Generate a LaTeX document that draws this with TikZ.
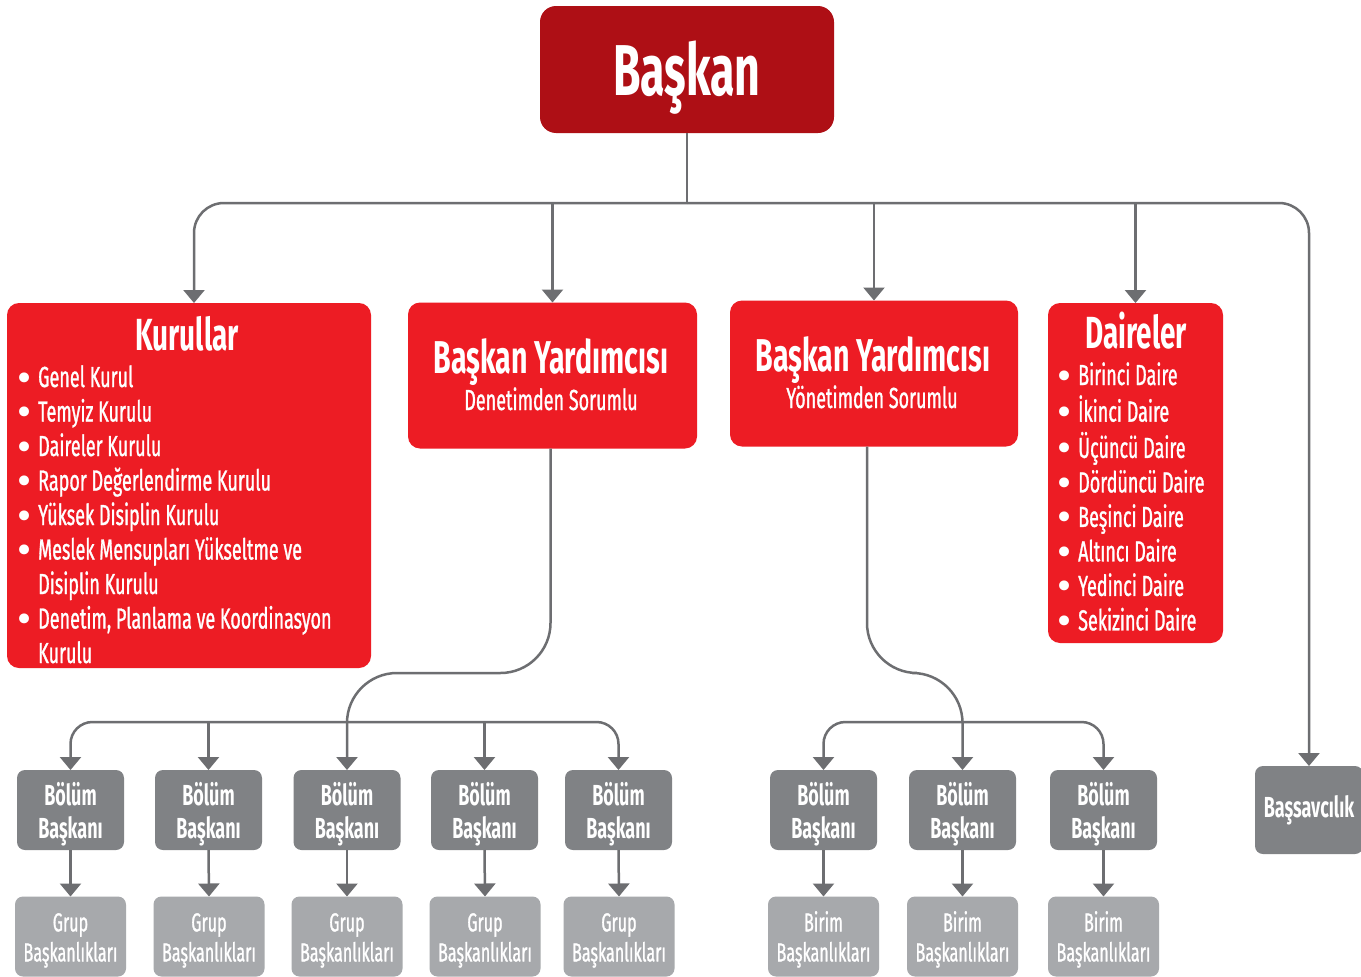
\documentclass[tikz,border=0pt]{standalone}
\usepackage{fontspec}
\setmainfont{Fira Sans}[FakeStretch=0.62]
\newfontfamily\medfont{Fira Sans}[FakeStretch=0.62, FakeBold=1]
\newfontfamily\bulfont{DejaVu Sans}
\usetikzlibrary{arrows.meta}
\definecolor{cDark}{HTML}{AE0F15}
\definecolor{cRed}{HTML}{ED1C24}
\definecolor{cGray}{HTML}{808285}
\definecolor{cLGray}{HTML}{A7A9AC}
\definecolor{cLine}{HTML}{6D6E71}
\newcommand{\fs}[1]{\fontsize{#1}{#1}\selectfont}
\newcommand{\bt}{\makebox[24pt][l]{\raisebox{-3pt}{\bulfont\fontsize{34}{34}\selectfont •}}}
\tikzset{
  box/.style={inner sep=0pt, outer sep=0pt},
  darkbox/.style={box, fill=cDark, rounded corners=16pt},
  redbox/.style={box, fill=cRed, rounded corners=12pt},
  graybox/.style={box, fill=cGray, rounded corners=8pt, minimum width=107pt, minimum height=80pt,
     text=white, align=center, font=\bfseries\fontsize{29}{33}\selectfont},
  lgraybox/.style={box, fill=cLGray, rounded corners=8pt, minimum width=111pt, minimum height=80pt,
     text=white, align=center, font=\medfont\fontsize{26}{30}\selectfont},
  wtext/.style={text=white, inner sep=0pt, anchor=base},
  listtext/.style={text=white, inner sep=0pt, anchor=base west,
     font=\medfont\fontsize{29}{34.5}\selectfont},
  line/.style={draw=cLine, line width=2.5pt},
  arr/.style={line, -{Triangle[width=21pt,length=13pt]}},
}
\begin{document}
\begin{tikzpicture}[x=1pt,y=-1pt]
\useasboundingbox[fill=white] (0,0) rectangle (1361,977);

% top
\node[darkbox, minimum width=294pt, minimum height=127pt] (bask) at (687,69.5) {};
\node[wtext, font=\bfseries\fs{72}] (baskT) at (687,95) {Başkan};

% second level
\node[redbox, minimum width=364pt, minimum height=365pt] (kur) at (189,485.5) {};
\node[wtext, font=\bfseries\fs{45}] (kurT) at (187,350) {Kurullar};
\node[listtext] (kurL) at (14,387)
 {\begin{tabular}[t]{@{}l@{}}
  \bt Genel Kurul\\
  \bt Temyiz Kurulu\\
  \bt Daireler Kurulu\\
  \bt Rapor Değerlendirme Kurulu\\
  \bt Yüksek Disiplin Kurulu\\
  \bt Meslek Mensupları Yükseltme ve\\
  \hspace*{24pt}Disiplin Kurulu\\
  \bt Denetim, Planlama ve Koordinasyon\\
  \hspace*{24pt}Kurulu
  \end{tabular}};

\node[redbox, minimum width=289pt, minimum height=146pt] (by1) at (552.5,375.5) {};
\node[wtext, font=\bfseries\fs{46}] (by1T) at (551,373) {Başkan Yardımcısı};
\node[wtext, font=\medfont\fs{29}] (by1S) at (551,410) {Denetimden Sorumlu};

\node[redbox, minimum width=288pt, minimum height=146pt] (by2) at (874,373.5) {};
\node[wtext, font=\bfseries\fs{46}] (by2T) at (873,371) {Başkan Yardımcısı};
\node[wtext, font=\medfont\fs{29}] (by2S) at (872,408) {Yönetimden Sorumlu};

\node[redbox, minimum width=175pt, minimum height=340pt] (dai) at (1135.5,473) {};
\node[wtext, font=\bfseries\fs{45}] (daiT) at (1136,348) {Daireler};
\node[listtext] (daiL) at (1054,385)
 {\begin{tabular}[t]{@{}l@{}}
  \bt Birinci Daire\\
  \bt İkinci Daire\\
  \bt Üçüncü Daire\\
  \bt Dördüncü Daire\\
  \bt Beşinci Daire\\
  \bt Altıncı Daire\\
  \bt Yedinci Daire\\
  \bt Sekizinci Daire
  \end{tabular}};

\node[graybox, minimum width=108pt, minimum height=88pt] (bass) at (1309,810) {Başsavcılık};

% lower level
\foreach \n/\x in {b1/70.5, b2/208.5, b3/347, b4/484.5, b5/618.5, r1/823.5, r2/962.5, r3/1103.5}
  \node[graybox] (\n) at (\x,810) {\rule{0pt}{31pt}Bölüm\\Başkanı};
\foreach \n/\x in {g1/70.5, g2/209, g3/347, g4/485, g5/619}
  \node[lgraybox] (\n) at (\x,936.5) {\rule{0pt}{26pt}Grup\\Başkanlıkları};
\foreach \n/\x in {s1/823.5, s2/962.5, s3/1103.5}
  \node[lgraybox] (\n) at (\x,936.5) {\rule{0pt}{26pt}Birim\\Başkanlıkları};

% connectors
\coordinate (hub) at (687,203);
\coordinate (midL) at (0,673);
\coordinate (lvl) at (0,722);
\draw[line] (bask.south) -- (hub);
\draw[arr, rounded corners=30pt] (hub) -| ([xshift=5pt]kur.north);
\draw[arr, rounded corners=30pt] (hub) -| (bass.north);
\draw[arr] (hub -| by1.north) -- (by1.north);
\draw[arr] (hub -| by2.north) -- (by2.north);
\draw[arr] (hub -| dai.north) -- (dai.north);

\draw[arr, rounded corners=50pt] ([xshift=-2pt]by1.south) |- (b3.north |- midL) -- (b3.north);
\draw[arr, rounded corners=22pt] (b3.north |- lvl) -| (b1.north);
\draw[arr, rounded corners=22pt] (b3.north |- lvl) -| (b5.north);
\draw[arr] (b2.north |- lvl) -- (b2.north);
\draw[arr] (b4.north |- lvl) -- (b4.north);

\draw[arr, rounded corners=50pt] ([xshift=-7pt]by2.south) |- (r2.north |- midL) -- (r2.north);
\draw[arr, rounded corners=22pt] (r2.north |- lvl) -| (r1.north);
\draw[arr, rounded corners=22pt] (r2.north |- lvl) -| (r3.north);

\foreach \a/\b in {b1/g1, b2/g2, b3/g3, b4/g4, b5/g5, r1/s1, r2/s2, r3/s3}
  \draw[arr] (\a.south) -- (\b.north);
\end{tikzpicture}
\end{document}
